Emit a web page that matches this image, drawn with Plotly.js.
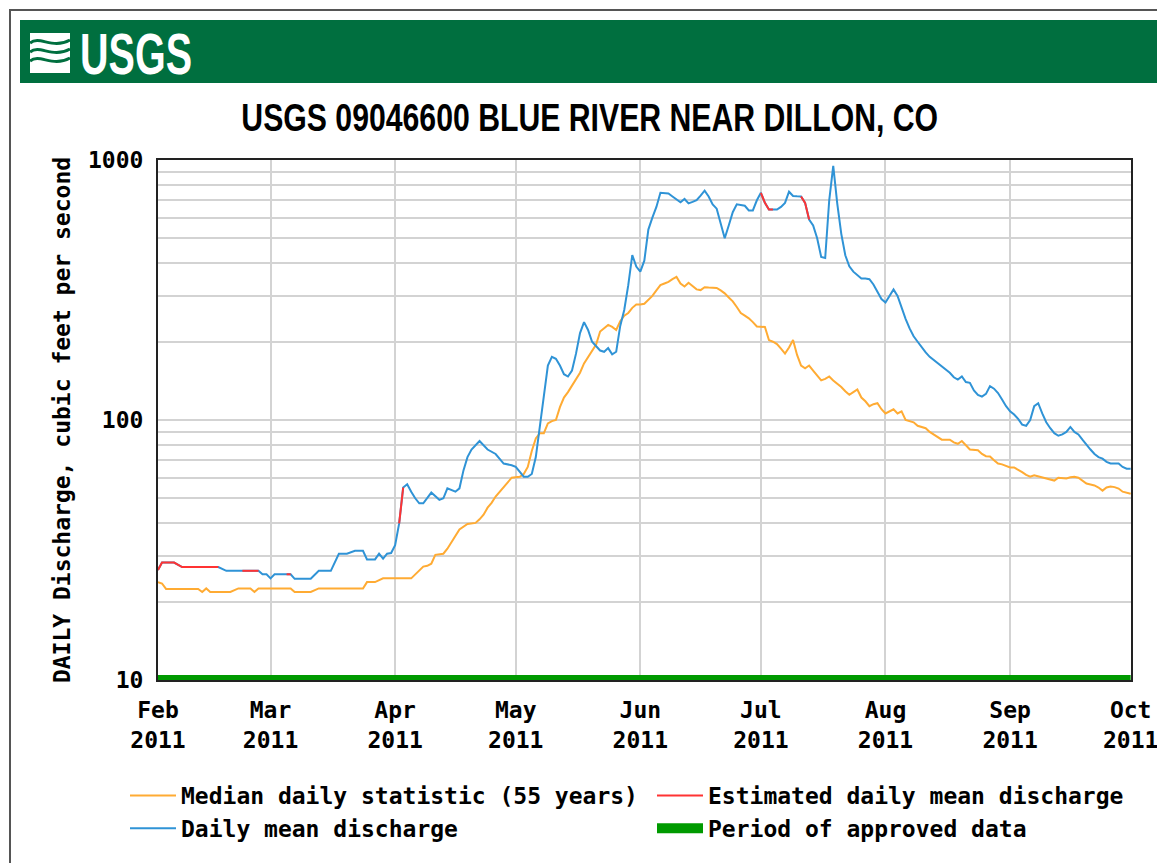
<!DOCTYPE html>
<html>
<head>
<meta charset="utf-8">
<script src="https://cdn.plot.ly/plotly-3.0.1.min.js"></script>
<style>
html,body{margin:0;padding:0;background:#fff;}
#chart{width:1157px;height:863px;}
</style>
</head>
<body>
<div id="chart"></div>
<script>
// ---------------- DATA ----------------
const chartTitle = 'USGS 09046600 BLUE RIVER NEAR DILLON, CO';
const logoText = 'USGS';
const yAxisTitle = 'DAILY Discharge, cubic feet per second';
const seriesNames = ['Median daily statistic (55 years)', 'Estimated daily mean discharge', 'Daily mean discharge', 'Period of approved data'];

const monthTickDates = ['2011-02-01','2011-03-01','2011-04-01','2011-05-01','2011-06-01','2011-07-01','2011-08-01','2011-09-01','2011-10-01'];
const monthTickLabels = ['Feb<br>2011','Mar<br>2011','Apr<br>2011','May<br>2011','Jun<br>2011','Jul<br>2011','Aug<br>2011','Sep<br>2011','Oct<br>2011'];
const yTickVals = [10,20,30,40,50,60,70,80,90,100,200,300,400,500,600,700,800,900,1000];
const yTickText = ['10','','','','','','','','','100','','','','','','','','','1000'];

// Daily mean discharge (cfs)
const dailyDates = [
 '2011-02-01','2011-02-02','2011-02-05','2011-02-07','2011-02-16','2011-02-18','2011-02-22','2011-02-26','2011-02-27','2011-02-28',
 '2011-03-01','2011-03-02','2011-03-05','2011-03-06','2011-03-07','2011-03-11','2011-03-13','2011-03-16','2011-03-18','2011-03-20',
 '2011-03-22','2011-03-24','2011-03-25','2011-03-27','2011-03-28','2011-03-29','2011-03-30','2011-03-31',
 '2011-04-01','2011-04-02','2011-04-03','2011-04-04','2011-04-05','2011-04-06','2011-04-07','2011-04-08','2011-04-10','2011-04-11',
 '2011-04-12','2011-04-13','2011-04-14','2011-04-16','2011-04-17','2011-04-18','2011-04-19','2011-04-20','2011-04-22','2011-04-24',
 '2011-04-26','2011-04-28','2011-04-30',
 '2011-05-01','2011-05-03','2011-05-04','2011-05-05','2011-05-06','2011-05-07','2011-05-08','2011-05-09','2011-05-10','2011-05-11',
 '2011-05-12','2011-05-13','2011-05-14','2011-05-15','2011-05-16','2011-05-17','2011-05-18','2011-05-19','2011-05-20','2011-05-21',
 '2011-05-22','2011-05-23','2011-05-24','2011-05-25','2011-05-26','2011-05-27','2011-05-28','2011-05-29','2011-05-30','2011-05-31',
 '2011-06-01','2011-06-02','2011-06-03','2011-06-04','2011-06-05','2011-06-06','2011-06-07','2011-06-08','2011-06-09','2011-06-10',
 '2011-06-11','2011-06-12','2011-06-13','2011-06-14','2011-06-15','2011-06-16','2011-06-17','2011-06-18','2011-06-19','2011-06-20',
 '2011-06-21','2011-06-22','2011-06-23','2011-06-24','2011-06-25','2011-06-26','2011-06-27','2011-06-28','2011-06-29','2011-06-30',
 '2011-07-01','2011-07-02','2011-07-03','2011-07-04','2011-07-05','2011-07-06','2011-07-07','2011-07-08','2011-07-09','2011-07-10',
 '2011-07-11','2011-07-12','2011-07-13','2011-07-14','2011-07-15','2011-07-16','2011-07-17','2011-07-18','2011-07-19','2011-07-20',
 '2011-07-21','2011-07-22','2011-07-23','2011-07-24','2011-07-25','2011-07-26','2011-07-27','2011-07-28','2011-07-29','2011-07-30',
 '2011-07-31',
 '2011-08-01','2011-08-02','2011-08-03','2011-08-04','2011-08-05','2011-08-06','2011-08-07','2011-08-08','2011-08-09','2011-08-10',
 '2011-08-11','2011-08-12','2011-08-13','2011-08-14','2011-08-15','2011-08-16','2011-08-17','2011-08-18','2011-08-19','2011-08-20',
 '2011-08-21','2011-08-22','2011-08-23','2011-08-24','2011-08-25','2011-08-26','2011-08-27','2011-08-28','2011-08-29','2011-08-30',
 '2011-08-31',
 '2011-09-01','2011-09-02','2011-09-03','2011-09-04','2011-09-05','2011-09-06','2011-09-07','2011-09-08','2011-09-09','2011-09-10',
 '2011-09-11','2011-09-12','2011-09-13','2011-09-14','2011-09-15','2011-09-16','2011-09-17','2011-09-18','2011-09-19','2011-09-20',
 '2011-09-21','2011-09-22','2011-09-23','2011-09-24','2011-09-25','2011-09-26','2011-09-28','2011-09-29','2011-09-30','2011-10-01'
];
const dailyValues = [
 26.5,28.3,28.3,27.2,27.2,26.3,26.3,26.3,25.5,25.5,
 24.6,25.5,25.5,25.5,24.5,24.5,26.3,26.3,30.6,30.6,
 31.4,31.4,29.1,29.1,30.6,29.3,30.6,30.8,
 33,40,55,56.6,53,50,47.8,47.8,52.6,51,
 49.3,50,54.6,53,54.6,64,72,77,83,77,
 74,68,67,
 66,60.5,60.5,62,72,95,127,162,175,172,
 162,150,147,155,180,216,238,222,200,192,
 185,183,189,179,183,230,265,330,431,389,
 372,410,540,600,660,748,745,743,724,705,
 688,708,681,690,701,730,762,724,675,650,
 575,500,560,630,675,670,667,640,640,700,
 748,684,645,645,645,660,684,755,727,725,
 724,684,590,560,500,424,420,700,950,680,
 520,430,390,372,360,350,350,348,332,310,
 292,
 283,300,318,300,270,245,225,210,200,190,
 182,175,170,166,160,156,152,146,143,147,
 140,139,130,125,123,126,135,132,127,120,
 113,
 108,105,101,96,95,100,113,116,106,98,
 93,89,87,88,90,94,90,88,84,80,
 77,74,72,71,69,68,68,66,65,65
];
// Periods flagged as estimated (inclusive)
const estimatedStart = ['2011-02-01','2011-02-22','2011-03-05','2011-04-02','2011-07-01','2011-07-11'];
const estimatedEnd   = ['2011-02-16','2011-02-26','2011-03-06','2011-04-03','2011-07-04','2011-07-13'];

// Median daily statistic (55 years), cfs
const medianDates = [
 '2011-02-01','2011-02-02','2011-02-03','2011-02-11','2011-02-12','2011-02-13','2011-02-14','2011-02-19','2011-02-21','2011-02-24',
 '2011-02-25','2011-02-26','2011-03-06','2011-03-07','2011-03-11','2011-03-13','2011-03-24','2011-03-25','2011-03-27','2011-03-29',
 '2011-04-05','2011-04-06','2011-04-08','2011-04-09','2011-04-10','2011-04-11','2011-04-13','2011-04-14','2011-04-15','2011-04-16',
 '2011-04-17','2011-04-19','2011-04-21','2011-04-22','2011-04-23','2011-04-24','2011-04-25','2011-04-26','2011-04-27','2011-04-28',
 '2011-04-29','2011-04-30',
 '2011-05-02','2011-05-03','2011-05-04','2011-05-05','2011-05-06','2011-05-07','2011-05-08','2011-05-09','2011-05-10','2011-05-11',
 '2011-05-12','2011-05-13','2011-05-14','2011-05-15','2011-05-16','2011-05-17','2011-05-18','2011-05-19','2011-05-20','2011-05-21',
 '2011-05-22','2011-05-23','2011-05-24','2011-05-25','2011-05-26','2011-05-27','2011-05-28','2011-05-29','2011-05-30','2011-05-31',
 '2011-06-01','2011-06-02','2011-06-03','2011-06-04','2011-06-05','2011-06-06','2011-06-07','2011-06-08','2011-06-09','2011-06-10',
 '2011-06-11','2011-06-12','2011-06-13','2011-06-14','2011-06-15','2011-06-16','2011-06-17','2011-06-18','2011-06-20',
 '2011-06-21','2011-06-22','2011-06-23','2011-06-24','2011-06-25','2011-06-26','2011-06-27','2011-06-28','2011-06-29','2011-06-30',
 '2011-07-02','2011-07-03','2011-07-04','2011-07-05','2011-07-06','2011-07-07','2011-07-08','2011-07-09','2011-07-10',
 '2011-07-11','2011-07-12','2011-07-13','2011-07-14','2011-07-15','2011-07-16','2011-07-17','2011-07-18','2011-07-19','2011-07-20',
 '2011-07-21','2011-07-22','2011-07-23','2011-07-24','2011-07-25','2011-07-26','2011-07-27','2011-07-28','2011-07-29','2011-07-30',
 '2011-07-31',
 '2011-08-01','2011-08-02','2011-08-03','2011-08-04','2011-08-05','2011-08-06','2011-08-07','2011-08-08','2011-08-09','2011-08-10',
 '2011-08-11','2011-08-12','2011-08-13','2011-08-14','2011-08-15','2011-08-17','2011-08-18','2011-08-19','2011-08-20',
 '2011-08-21','2011-08-22','2011-08-24','2011-08-25','2011-08-26','2011-08-27','2011-08-28','2011-08-29','2011-08-30','2011-08-31',
 '2011-09-01','2011-09-02','2011-09-03','2011-09-04','2011-09-05','2011-09-06','2011-09-07','2011-09-08','2011-09-09','2011-09-10',
 '2011-09-11','2011-09-12','2011-09-13','2011-09-15','2011-09-16','2011-09-17','2011-09-18','2011-09-19','2011-09-20',
 '2011-09-21','2011-09-22','2011-09-23','2011-09-24','2011-09-25','2011-09-26','2011-09-27','2011-09-28','2011-09-29','2011-09-30',
 '2011-10-01'
];
const medianValues = [
 23.8,23.5,22.4,22.4,21.8,22.5,21.8,21.8,22.5,22.5,
 21.8,22.5,22.5,21.8,21.8,22.5,22.5,23.8,23.8,24.6,
 24.6,25.5,27.3,27.5,28,30.3,30.6,32,34,36,
 37.9,39.8,40.2,41.5,43.2,46,48,50.8,53,55.5,
 58,60,
 60.5,62,66,76,85,89,89,97,99,100,
 112,122,128,136,143,152,165,175,185,195,
 219,226,232,228,222,240,252,258,270,278,
 278,280,290,300,315,330,335,340,348,355,
 335,326,337,328,318,316,324,323,322,
 315,307,296,286,272,258,252,246,238,229,
 228,203,200,196,188,180,190,203,178,
 162,158,162,155,148,142,144,147,142,138,
 134,129,125,128,131,122,118,113,115,116,
 110,
 106,108,110,106,108,100,99,98,95,94,
 93,90,88,86,84,84,82,81,83,
 80,77,76.5,74,72.6,72.4,70,68,67.5,66.5,
 65.7,65.7,64.5,63,61.5,60.5,61.3,60.8,60,59.5,
 59,58.5,60,59.6,60.2,60.5,60,58.5,57,
 56.5,56,55,53.5,55,55.5,55.2,54.5,53,52.5,
 52
];
// Period of approved data
const approvedDates = ['2011-02-01','2011-10-01'];
const approvedValues = [10,10];

// ---------------- BUILD ----------------
function inEstimated(d){
  for(let i=0;i<estimatedStart.length;i++){ if(d>=estimatedStart[i] && d<=estimatedEnd[i]) return true; }
  return false;
}
const estValues = dailyDates.map((d,i)=> inEstimated(d) ? dailyValues[i] : null);

const W=1157, H=863, ML=158, MR=26, MT=160, MB=183;
const PW=W-ML-MR, PH=H-MT-MB;
const px = x => (x-ML)/PW;
const py = y => (H-MB-y)/PH;
function pathFrom(cmds){
  return cmds.map(c=>{ let s=c[0]; for(let i=1;i<c.length;i+=2){ s+=(i>1?' ':'')+px(c[i]).toFixed(5)+','+py(c[i+1]).toFixed(5);} return s; }).join(' ');
}

const mono = '"DejaVu Sans Mono", "Liberation Mono", monospace';
const sans = '"Liberation Sans", Arial, sans-serif';
const xRange = ['2011-02-01','2011-10-01 02:00'];

const traces = [
 {x:approvedDates, y:approvedValues, name:seriesNames[3], type:'scatter', mode:'lines',
  line:{color:'#009a00', width:10}, cliponaxis:false, legendrank:4},
 {x:medianDates, y:medianValues, name:seriesNames[0], type:'scatter', mode:'lines',
  line:{color:'#ffab33', width:2}, legendrank:1},
 {x:dailyDates, y:dailyValues, name:seriesNames[2], type:'scatter', mode:'lines',
  line:{color:'#2f93d6', width:2}, legendrank:3},
 {x:dailyDates, y:estValues, name:seriesNames[1], type:'scatter', mode:'lines', connectgaps:false,
  line:{color:'#ff3333', width:2}, legendrank:2}
];

const shapes = [
 {type:'rect', xref:'paper', yref:'paper', x0:px(10), x1:px(1170), y0:py(900), y1:py(10),
  line:{color:'#555', width:2}, fillcolor:'rgba(0,0,0,0)', layer:'below'},
 {type:'rect', xref:'paper', yref:'paper', x0:px(20), x1:px(1170), y0:py(83), y1:py(20),
  line:{width:0}, fillcolor:'#006f3f', layer:'below'},
 {type:'path', xref:'paper', yref:'paper', layer:'above',
  path: pathFrom([['M',30,33],['L',70,33],['L',70,73],['L',30,73]])+' Z',
  fillcolor:'#ffffff', line:{width:0}},
 {type:'path', xref:'paper', yref:'paper', layer:'above',
  path: pathFrom([['M',30,43],['C',40,35, 52,50, 70,40]]), line:{color:'#006f3f', width:3}},
 {type:'path', xref:'paper', yref:'paper', layer:'above',
  path: pathFrom([['M',30,52],['C',40,44, 52,59, 70,49]]), line:{color:'#006f3f', width:3}},
 {type:'path', xref:'paper', yref:'paper', layer:'above',
  path: pathFrom([['M',30,61],['C',40,53, 52,68, 70,58]]), line:{color:'#006f3f', width:3}}
];

const annotations = [
 {text:logoText, xref:'paper', yref:'paper', x:px(78), y:py(53), xanchor:'left', yanchor:'middle',
  showarrow:false, font:{family:sans, size:58, color:'#ffffff', weight:'bold'}},
 {text:chartTitle, xref:'paper', yref:'paper', x:px(589), y:py(117), xanchor:'center', yanchor:'middle',
  showarrow:false, font:{family:sans, size:39, color:'#000000', weight:'bold'}}
];

const tickFont = {family:mono, size:23, color:'#000', weight:'bold'};
const layout = {
 width:W, height:H,
 margin:{l:ML, r:MR, t:MT, b:MB, autoexpand:false},
 paper_bgcolor:'#ffffff', plot_bgcolor:'#ffffff',
 showlegend:true,
 legend:{orientation:'h', x:px(125), y:py(774), xanchor:'left', yanchor:'top',
   entrywidth:466, itemwidth:46, font:{family:mono, size:23, color:'#000', weight:'bold'},
   bgcolor:'rgba(0,0,0,0)', traceorder:'normal'},
 xaxis:{type:'date', range:xRange, tickmode:'array', tickvals:monthTickDates, ticktext:monthTickLabels,
   showgrid:true, gridcolor:'#d3d3d3', gridwidth:2, ticks:'', ticklabelstandoff:8, ticklabeloverflow:'allow',
   showline:true, mirror:true, linecolor:'#222', linewidth:2, zeroline:false,
   tickfont:tickFont, fixedrange:true},
 yaxis:{type:'log', range:[1,3], tickmode:'array', tickvals:yTickVals, ticktext:yTickText,
   showgrid:true, gridcolor:'#d3d3d3', gridwidth:2, ticks:'', ticklabelstandoff:8,
   showline:true, mirror:true, linecolor:'#222', linewidth:2, zeroline:false,
   tickfont:tickFont,
   title:{text:yAxisTitle, standoff:11, font:{family:mono, size:23, color:'#000', weight:'bold'}}, fixedrange:true},
 shapes:shapes,
 annotations:annotations
};

// target widths (px) for the condensed header texts
const condensedTargets = {};
condensedTargets[chartTitle] = 697;
condensedTargets[logoText] = 112;

Plotly.newPlot('chart', traces, layout, {displayModeBar:false, staticPlot:true}).then(function(){
  document.querySelectorAll('#chart .annotation-text').forEach(function(t){
    const target = condensedTargets[t.textContent];
    if(!target) return;
    const bb = t.getBBox();
    const s = target / bb.width;
    const ax = (t.textContent === chartTitle) ? bb.x + bb.width/2 : bb.x;
    const prev = t.getAttribute('transform') || '';
    t.setAttribute('transform', prev + ' translate(' + ax + ',0) scale(' + s + ',1) translate(' + (-ax) + ',0)');
  });
});
</script>
</body>
</html>
